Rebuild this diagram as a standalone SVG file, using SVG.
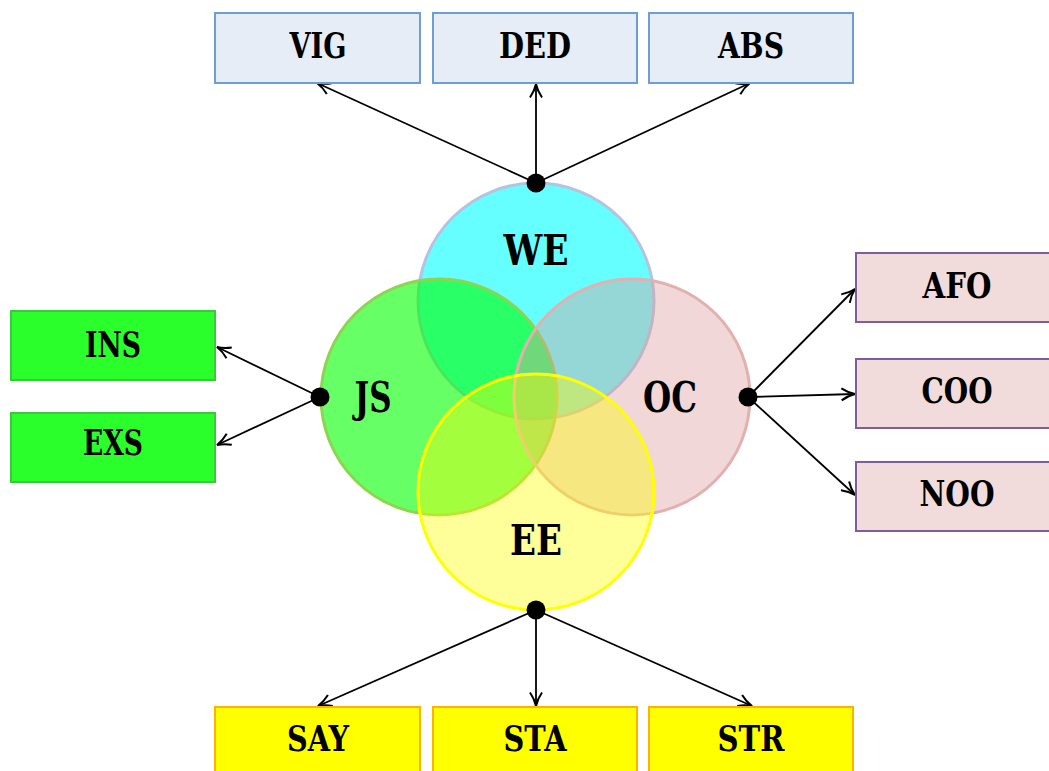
<svg xmlns="http://www.w3.org/2000/svg" width="1049" height="771" viewBox="0 0 1049 771">
  <defs>
    <style>
      .lbl { font-family: "DejaVu Serif", "Liberation Serif", serif; font-weight: bold; text-anchor: middle; fill: #000; }
      .box { font-size: 35px; }
      .big { font-size: 43px; }
      .blue { fill: #e6edf6; stroke: #6d9eda; stroke-width: 2; }
      .green { fill: #2bff2b; stroke: #3cc83c; stroke-width: 2; }
      .pink { fill: #f2dcdb; stroke: #7d5d9e; stroke-width: 2; }
      .yellow { fill: #ffff00; stroke: #ffb300; stroke-width: 2; }
      .link { stroke: #000; stroke-width: 1.8; fill: none; marker-end: url(#open); }
      .dot { fill: #000; }
    </style>
    <marker id="open" viewBox="0 0 16 16" refX="15" refY="8" markerWidth="16" markerHeight="16" markerUnits="userSpaceOnUse" orient="auto">
      <path d="M1.5,2 Q8,6.5 15,8 Q8,9.5 1.5,14" fill="none" stroke="#000" stroke-width="2"/>
    </marker>
  </defs>

  <rect width="1049" height="771" fill="#ffffff"/>

  <!-- overlapping circles -->
  <g id="WE">
    <circle cx="536" cy="301" r="118" fill="#00ffff" fill-opacity="0.6" stroke="#b3c3e0" stroke-width="3"/>
  </g>
  <g id="JS">
    <circle cx="439" cy="397" r="118" fill="#00ff00" fill-opacity="0.6" stroke="#8fd44f" stroke-width="3"/>
  </g>
  <g id="OC">
    <circle cx="632" cy="397" r="118" fill="#dc9a9a" fill-opacity="0.4" stroke="#e3b0b0" stroke-width="3"/>
  </g>
  <g id="EE">
    <circle cx="536" cy="492" r="118" fill="#ffff00" fill-opacity="0.4" stroke="#ffff00" stroke-width="3"/>
  </g>
  <g id="circle-labels">
    <text class="lbl big" x="536" y="265" textLength="65" lengthAdjust="spacingAndGlyphs">WE</text>
    <text class="lbl big" x="373" y="412" textLength="37" lengthAdjust="spacingAndGlyphs">JS</text>
    <text class="lbl big" x="670" y="412" textLength="54" lengthAdjust="spacingAndGlyphs">OC</text>
    <text class="lbl big" x="536" y="555" textLength="52" lengthAdjust="spacingAndGlyphs">EE</text>
  </g>

  <!-- connectors -->
  <g id="connectors">
    <line class="link" x1="536" y1="183" x2="317" y2="83"/>
    <line class="link" x1="536" y1="183" x2="536" y2="84"/>
    <line class="link" x1="536" y1="183" x2="750" y2="83"/>
    <line class="link" x1="320" y1="397" x2="217" y2="347"/>
    <line class="link" x1="320" y1="397" x2="217" y2="445"/>
    <line class="link" x1="748" y1="397" x2="855" y2="289"/>
    <line class="link" x1="748" y1="397" x2="855" y2="394"/>
    <line class="link" x1="748" y1="397" x2="855" y2="495"/>
    <line class="link" x1="536" y1="610" x2="318" y2="706"/>
    <line class="link" x1="536" y1="610" x2="536" y2="706"/>
    <line class="link" x1="536" y1="610" x2="752" y2="706"/>
    <circle class="dot" cx="536" cy="183" r="9.5"/>
    <circle class="dot" cx="320" cy="397" r="9.5"/>
    <circle class="dot" cx="748" cy="397" r="9.5"/>
    <circle class="dot" cx="536" cy="610" r="9.5"/>
  </g>

  <!-- top row -->
  <g id="VIG"><rect class="blue" x="215" y="13" width="205" height="70"/><text class="lbl box" x="318" y="58" textLength="57" lengthAdjust="spacingAndGlyphs">VIG</text></g>
  <g id="DED"><rect class="blue" x="433" y="13" width="204" height="70"/><text class="lbl box" x="535" y="58" textLength="72" lengthAdjust="spacingAndGlyphs">DED</text></g>
  <g id="ABS"><rect class="blue" x="649" y="13" width="204" height="70"/><text class="lbl box" x="751" y="58" textLength="66" lengthAdjust="spacingAndGlyphs">ABS</text></g>

  <!-- left column -->
  <g id="INS"><rect class="green" x="11" y="311" width="204" height="69"/><text class="lbl box" x="113" y="357" textLength="56" lengthAdjust="spacingAndGlyphs">INS</text></g>
  <g id="EXS"><rect class="green" x="11" y="413" width="204" height="69"/><text class="lbl box" x="113" y="455" textLength="60" lengthAdjust="spacingAndGlyphs">EXS</text></g>

  <!-- right column -->
  <g id="AFO"><rect class="pink" x="856" y="253" width="205" height="69"/><text class="lbl box" x="957" y="298" textLength="69" lengthAdjust="spacingAndGlyphs">AFO</text></g>
  <g id="COO"><rect class="pink" x="856" y="359" width="205" height="69"/><text class="lbl box" x="957" y="403" textLength="71" lengthAdjust="spacingAndGlyphs">COO</text></g>
  <g id="NOO"><rect class="pink" x="856" y="462" width="205" height="69"/><text class="lbl box" x="957" y="506" textLength="75" lengthAdjust="spacingAndGlyphs">NOO</text></g>

  <!-- bottom row -->
  <g id="SAY"><rect class="yellow" x="215" y="707" width="205" height="70"/><text class="lbl box" x="318" y="751" textLength="62" lengthAdjust="spacingAndGlyphs">SAY</text></g>
  <g id="STA"><rect class="yellow" x="433" y="707" width="204" height="70"/><text class="lbl box" x="535" y="751" textLength="63" lengthAdjust="spacingAndGlyphs">STA</text></g>
  <g id="STR"><rect class="yellow" x="649" y="707" width="204" height="70"/><text class="lbl box" x="751" y="751" textLength="67" lengthAdjust="spacingAndGlyphs">STR</text></g>
</svg>
